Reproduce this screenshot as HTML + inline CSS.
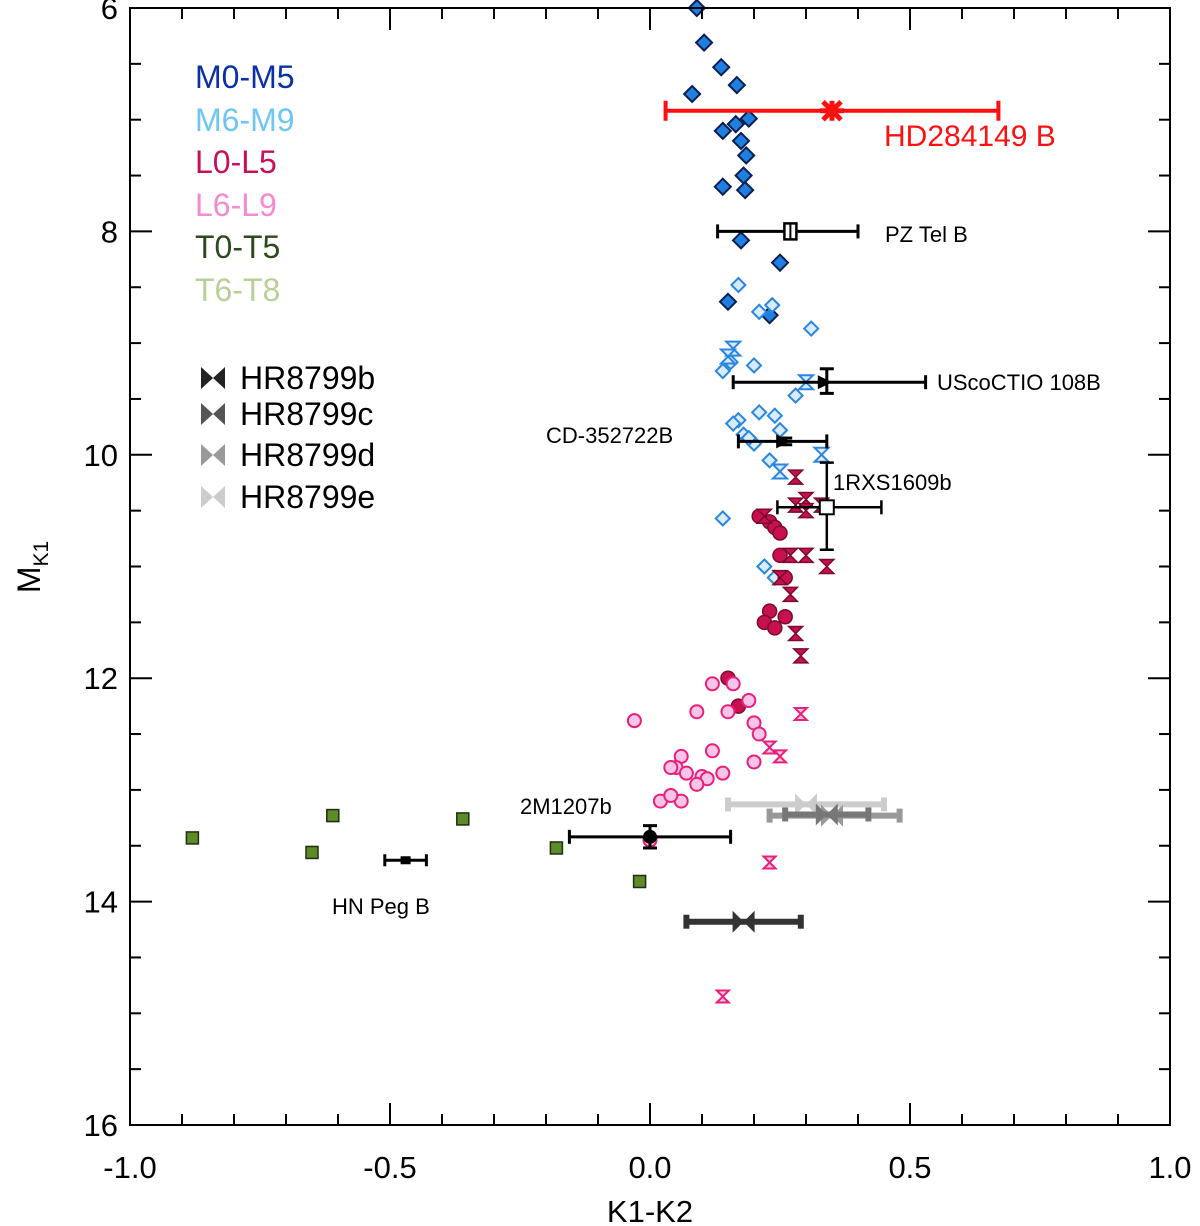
<!DOCTYPE html>
<html><head><meta charset="utf-8"><style>
body{margin:0;background:#fff;}
svg{display:block;font-family:"Liberation Sans",sans-serif;}
</style></head><body>
<svg id="chart" width="1200" height="1226" viewBox="0 0 1200 1226" xmlns="http://www.w3.org/2000/svg">
<rect x="0" y="0" width="1200" height="1226" fill="#fff"/>
<g id="marks"></g>
<g id="axes"></g>
<g id="labels"></g>
</svg>
<script>
const xTicks=[-1.0,-0.5,0.0,0.5,1.0];
const xTickLabels=["-1.0","-0.5","0.0","0.5","1.0"];
const yTicks=[6,8,10,12,14,16];
const yTickLabels=["6","8","10","12","14","16"];
const m05=[[0.09,6.0],[0.104,6.31],[0.137,6.53],[0.167,6.69],[0.081,6.77],[0.19,6.99],[0.165,7.04],[0.14,7.10],[0.175,7.19],[0.185,7.32],[0.18,7.50],[0.14,7.60],[0.183,7.63],[0.175,8.08],[0.25,8.28],[0.15,8.63],[0.23,8.75]];
const m69=[[0.17,8.48],[0.235,8.66],[0.31,8.87],[0.21,8.72],[0.155,9.17],[0.14,9.25],[0.2,9.2],[0.28,9.47],[0.17,9.69],[0.21,9.62],[0.24,9.65],[0.16,9.72],[0.18,9.82],[0.25,9.78],[0.2,9.9],[0.23,10.05],[0.14,10.57],[0.24,11.1],[0.22,11.0],[0.19,9.85]];
const m69bt=[[0.16,9.05],[0.15,9.12],[0.3,9.35],[0.33,10.0],[0.25,10.15]];
const l05=[[0.23,10.6],[0.24,10.65],[0.25,10.7],[0.25,10.9],[0.26,11.1],[0.23,11.4],[0.22,11.5],[0.24,11.55],[0.26,11.45],[0.15,12.0],[0.17,12.25],[0.21,10.55]];
const l05bt=[[0.28,10.2],[0.3,10.4],[0.28,10.45],[0.33,10.45],[0.3,10.5],[0.22,10.55],[0.3,10.9],[0.34,11.0],[0.25,11.1],[0.27,11.25],[0.28,11.6],[0.29,11.8],[0.27,10.9]];
const l69=[[0.12,12.05],[0.16,12.05],[0.15,12.3],[0.19,12.2],[0.2,12.4],[-0.03,12.38],[0.09,12.3],[0.21,12.5],[0.12,12.65],[0.2,12.75],[0.06,12.7],[0.05,12.8],[0.04,12.8],[0.07,12.85],[0.1,12.88],[0.14,12.85],[0.11,12.9],[0.09,12.95],[0.06,13.1],[0.02,13.1],[0.04,13.05],[0.0,13.45]];
const l69bt=[[0.29,12.32],[0.23,12.62],[0.25,12.7],[0.23,13.65],[0.14,14.85]];
const t05=[[-0.88,13.43],[-0.61,13.23],[-0.65,13.56],[-0.36,13.26],[-0.18,13.52],[-0.02,13.82]];
// companions: [x, y, xlo, xhi, ylo, yhi]
const hd284149=[0.35,6.92,0.03,0.67,6.92,6.92];
const pztel=[0.27,8.0,0.13,0.40,7.95,8.05];
const usco=[0.34,9.35,0.16,0.53,9.23,9.45];
const cd35=[0.26,9.88,0.17,0.34,9.85,9.91];
const rxs1609=[0.34,10.47,0.245,0.445,10.07,10.85];
const m1207=[0.0,13.42,-0.155,0.155,13.32,13.52];
const hnpeg=[-0.47,13.63,-0.51,-0.43,13.63,13.63];
const hr8799b=[0.18,14.18,0.07,0.29];
const hr8799c=[0.34,13.22,0.26,0.42];
const hr8799d=[0.35,13.23,0.23,0.48];
const hr8799e=[0.30,13.13,0.15,0.45];

const NS="http://www.w3.org/2000/svg";
const X0=130,X1=1170,Y0=8,Y1=1125;
const sx=v=>X0+(v+1)/2*(X1-X0);
const sy=v=>Y0+(v-6)/10*(Y1-Y0);
const marks=document.getElementById('marks');
const axes=document.getElementById('axes');
const labels=document.getElementById('labels');
function mk(tag,attrs,parent){const e=document.createElementNS(NS,tag);for(const k in attrs)e.setAttribute(k,attrs[k]);parent.appendChild(e);return e;}
function diamond(x,y,r,fill,stroke,sw){return mk('polygon',{points:`${x},${y-r} ${x+r},${y} ${x},${y+r} ${x-r},${y}`,fill:fill,stroke:stroke,'stroke-width':sw},marks);}
function bowtie(x,y,r,fill,stroke,sw){return mk('polygon',{points:`${x-r},${y-r} ${x+r},${y-r} ${x-r},${y+r} ${x+r},${y+r}`,fill:fill,stroke:stroke,'stroke-width':sw,'stroke-linejoin':'miter'},marks);}
function sbowtie(x,y,r,fill,parent){return mk('polygon',{points:`${x-r},${y-r} ${x+r},${y+r} ${x+r},${y-r} ${x-r},${y+r}`,fill:fill},parent);}

m05.forEach(d=>{const e=diamond(sx(d[0]),sy(d[1]),8,'#1f7fe0','#0a1f50',2);

});
m69.forEach(d=>{const e=diamond(sx(d[0]),sy(d[1]),7,'#d8ecfb','#2a86e0',2);

});
m69bt.forEach(d=>{const e=bowtie(sx(d[0]),sy(d[1]),7,'#d8ecfb','#2a86e0',2);

});
l05.forEach(d=>{const e=mk('circle',{cx:sx(d[0]),cy:sy(d[1]),r:7,fill:'#c8104f',stroke:'#7a0a30','stroke-width':1.5},marks);

});
l05bt.forEach(d=>{const e=bowtie(sx(d[0]),sy(d[1]),7,'#c8104f','#7a0a30',1.5);

});
l69.forEach(d=>{const e=mk('circle',{cx:sx(d[0]),cy:sy(d[1]),r:6.5,fill:'#f8c4e8',stroke:'#e8207a','stroke-width':2},marks);

});
l69bt.forEach(d=>{const e=bowtie(sx(d[0]),sy(d[1]),6,'#f8c4e8','#e8207a',2);

});
t05.forEach(d=>{const e=mk('rect',{x:sx(d[0])-6,y:sy(d[1])-6,width:12,height:12,fill:'#5e8a28',stroke:'#1e2e10','stroke-width':1.5},marks);

});

function errbar(d,color,sw,cap,name){
  const g=mk('g',{},marks);
  
  
  const y=sy(d[1]),x=sx(d[0]);
  mk('line',{x1:sx(d[2]),x2:sx(d[3]),y1:y,y2:y,stroke:color,'stroke-width':sw},g);
  mk('line',{x1:sx(d[2]),x2:sx(d[2]),y1:y-cap,y2:y+cap,stroke:color,'stroke-width':sw},g);
  mk('line',{x1:sx(d[3]),x2:sx(d[3]),y1:y-cap,y2:y+cap,stroke:color,'stroke-width':sw},g);
  if(d.length>4&&d[5]>d[4]){
    mk('line',{x1:x,x2:x,y1:sy(d[4]),y2:sy(d[5]),stroke:color,'stroke-width':sw},g);
    mk('line',{x1:x-cap,x2:x+cap,y1:sy(d[4]),y2:sy(d[4]),stroke:color,'stroke-width':sw},g);
    mk('line',{x1:x-cap,x2:x+cap,y1:sy(d[5]),y2:sy(d[5]),stroke:color,'stroke-width':sw},g);
  }
  return g;
}
// HR8799 planets
[[hr8799e,'#cccccc','hr8799e-point'],[hr8799d,'#999999','hr8799d-point'],[hr8799c,'#777777','hr8799c-point'],[hr8799b,'#333333','hr8799b-point']].forEach(p=>{
  const g=errbar(p[0],p[1],6,7,p[2]);
  sbowtie(sx(p[0][0]),sy(p[0][1]),11,p[1],g);
});
let g;
g=errbar(hd284149,'#ff1010',4,10,'hd284149b-point');
const hx=sx(hd284149[0]),hy=sy(hd284149[1]);
[[-12,0,12,0],[-9,-9,9,9],[-9,9,9,-9],[0,-10,0,10]].forEach(l=>mk('line',{x1:hx+l[0],y1:hy+l[1],x2:hx+l[2],y2:hy+l[3],stroke:'#ff1010','stroke-width':5},g));
g=errbar(pztel,'#000',3,7,'pz-tel-b-point');
mk('rect',{x:sx(pztel[0])-6,y:sy(pztel[1])-8,width:12,height:16,fill:'#fff',stroke:'#000','stroke-width':2.5},g);
mk('line',{x1:sx(pztel[0]),x2:sx(pztel[0]),y1:sy(pztel[1])-8,y2:sy(pztel[1])+8,stroke:'#000','stroke-width':2},g);
g=errbar(usco,'#000',3,7,'uscoctio-108b-point');
mk('polygon',{points:`${sx(usco[0])-9},${sy(usco[1])-7} ${sx(usco[0])+5},${sy(usco[1])} ${sx(usco[0])-9},${sy(usco[1])+7}`,fill:'#000'},g);
g=errbar(cd35,'#000',3,7,'cd-352722b-point');
mk('polygon',{points:`${sx(cd35[0])-9},${sy(cd35[1])-7} ${sx(cd35[0])+5},${sy(cd35[1])} ${sx(cd35[0])-9},${sy(cd35[1])+7}`,fill:'#000'},g);
g=errbar(rxs1609,'#000',2.5,7,'1rxs1609b-point');
mk('rect',{x:sx(rxs1609[0])-7,y:sy(rxs1609[1])-7,width:14,height:14,fill:'#fff',stroke:'#000','stroke-width':2},g);
g=errbar(m1207,'#000',3,7,'2m1207b-point');
mk('circle',{cx:sx(m1207[0]),cy:sy(m1207[1]),r:7,fill:'#000'},g);
g=errbar(hnpeg,'#000',3,6,'hn-peg-b-point');
mk('rect',{x:sx(hnpeg[0])-5,y:sy(hnpeg[1])-4,width:10,height:8,fill:'#000'},g);

// axes frame
const fr=mk('rect',{x:X0,y:Y0,width:X1-X0,height:Y1-Y0,fill:'none',stroke:'#000','stroke-width':2},axes);


for(let v=-1;v<=1.0001;v+=0.1){
  const x=sx(v);const major=Math.abs(v*2-Math.round(v*2))<1e-6;const L=major?22:11;
  mk('line',{x1:x,x2:x,y1:Y1,y2:Y1-L,stroke:'#000','stroke-width':2},axes);
  mk('line',{x1:x,x2:x,y1:Y0,y2:Y0+L,stroke:'#000','stroke-width':2},axes);
}
for(let v=6;v<=16.0001;v+=0.5){
  const y=sy(v);const major=Math.abs(v/2-Math.round(v/2))<1e-6;const L=major?22:11;
  mk('line',{x1:X0,x2:X0+L,y1:y,y2:y,stroke:'#000','stroke-width':2},axes);
  mk('line',{x1:X1,x2:X1-L,y1:y,y2:y,stroke:'#000','stroke-width':2},axes);
}
xTicks.forEach((v,i)=>{const t=mk('text',{x:sx(v),y:1178,'font-size':31,'text-anchor':'middle'},axes);t.textContent=xTickLabels[i];

});
yTicks.forEach((v,i)=>{const t=mk('text',{x:118,y:sy(v)+11,'font-size':31,'text-anchor':'end'},axes);t.textContent=yTickLabels[i];

});
</script>
<svg style="position:absolute;left:0;top:0" width="1200" height="1226" font-family="Liberation Sans, sans-serif">
<text x="650" y="1222" font-size="31" text-anchor="middle">K1-K2</text>
<text transform="translate(40,567) rotate(-90)" font-size="32" text-anchor="middle">M<tspan font-size="21" dy="8">K1</tspan></text>
<g font-size="32">
<text x="195" y="88" fill="#0a2fa8">M0-M5</text>
<text x="195" y="131" fill="#6ec6f5">M6-M9</text>
<text x="195" y="173" fill="#c8105a">L0-L5</text>
<text x="195" y="216" fill="#f58ad0">L6-L9</text>
<text x="195" y="258" fill="#2d4a1e">T0-T5</text>
<text x="195" y="301" fill="#b8d098">T6-T8</text>
</g>
<g font-size="32">
<polygon points="201,367 225,389 225,367 201,389" fill="#222"/><text x="240" y="389">HR8799b</text>
<polygon points="201,403 225,425 225,403 201,425" fill="#555"/><text x="240" y="425">HR8799c</text>
<polygon points="201,444 225,466 225,444 201,466" fill="#999"/><text x="240" y="466">HR8799d</text>
<polygon points="201,486 225,508 225,486 201,508" fill="#ccc"/><text x="240" y="508">HR8799e</text>
</g>
<text x="884" y="146" font-size="30" fill="#ff1010">HD284149 B</text>
<g font-size="22" fill="#000">
<text x="885" y="242">PZ Tel B</text>
<text x="937" y="390">UScoCTIO 108B</text>
<text x="546" y="443">CD-352722B</text>
<text x="833" y="490">1RXS1609b</text>
<text x="520" y="814">2M1207b</text>
<text x="332" y="914">HN Peg B</text>
</g>
</svg>
</body></html>
